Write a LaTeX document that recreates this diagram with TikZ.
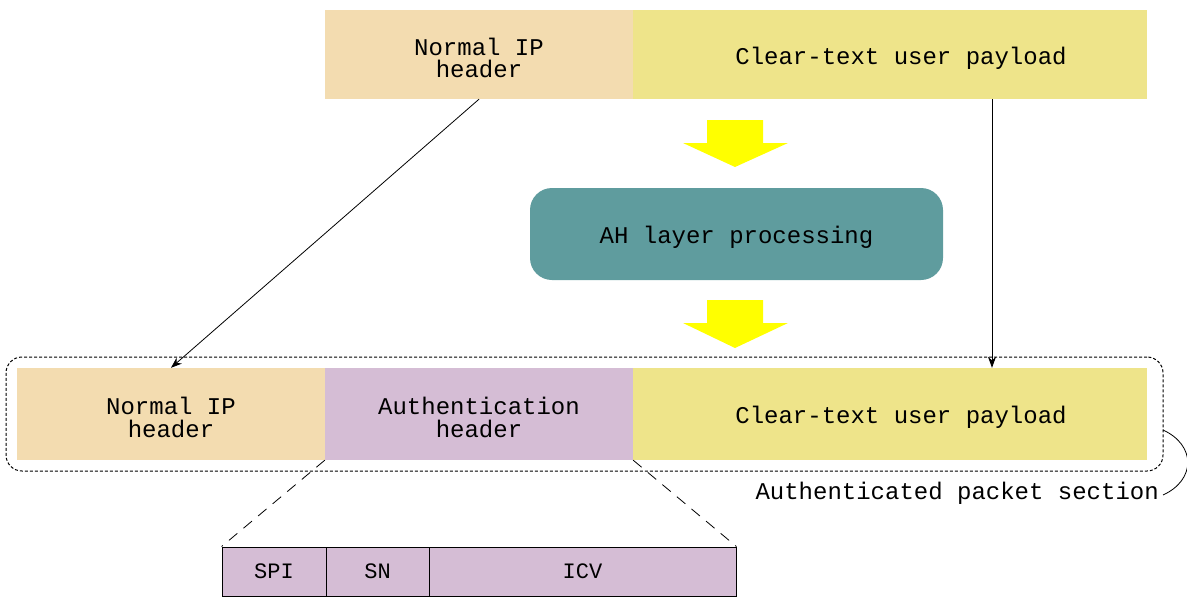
\documentclass[tikz,border=0pt]{standalone}
\usepackage{fontspec}
\setmonofont{Liberation Mono}
\usetikzlibrary{arrows.meta}
\definecolor{ipc}{HTML}{F3DCB0}
\definecolor{payc}{HTML}{EEE48A}
\definecolor{authc}{HTML}{D5BDD5}
\definecolor{ahc}{HTML}{5F9C9E}
\definecolor{yel}{HTML}{FFFF00}
\tikzset{
  field/.style={draw=none, minimum height=#1, inner sep=0pt},
  txt/.style={align=center, inner sep=0pt, yshift=-3.5pt,
    font=\ttfamily\fontsize{24}{22.5}\selectfont},
  cell/.style={draw=black, line width=0.9pt, minimum height=49, inner sep=0pt,
    font=\ttfamily\fontsize{22}{22}\selectfont},
  conn/.style={line width=0.8pt, -{Stealth[length=11pt,width=8pt]}},
  zoomline/.style={line width=0.8pt, dash pattern=on 11pt off 8pt},
  yarrow/.style={fill=yel, draw=none}
}
\begin{document}
\begin{tikzpicture}[x=1pt,y=-1pt]
\useasboundingbox (0,0) rectangle (1187,597);
% top row
\node[field=89, fill=ipc, minimum width=308, label={[txt]center:{Normal IP\\header}}] (ipTop) at (479,54.5) {};
\node[field=89, fill=payc, minimum width=514, label={[txt, xshift=11pt]center:{Clear-text user payload}}] (clrTop) at (890,54.5) {};
% AH processing
\node[field=92, fill=ahc, minimum width=413, rounded corners=22pt, label={[txt]center:{AH layer processing}}] (ah) at (736.5,234) {};
% yellow arrows
\fill[yarrow] (707,120) -- (763,120) -- (763,143) -- (788,143) -- (735,167) -- (683,143) -- (707,143) -- cycle;
\fill[yarrow] (707,300) -- (763,300) -- (763,323) -- (788,323) -- (735,348) -- (683,323) -- (707,323) -- cycle;
% bottom row
\node[field=92, fill=ipc, minimum width=308, label={[txt]center:{Normal IP\\header}}] (ipBot) at (171,414) {};
\node[field=92, fill=authc, minimum width=308, label={[txt]center:{Authentication\\header}}] (authBot) at (479,414) {};
\node[field=92, fill=payc, minimum width=514, label={[txt, xshift=11pt]center:{Clear-text user payload}}] (clrBot) at (890,414) {};
% dashed rounded frame
\node[draw=black, line width=1pt, dash pattern=on 3pt off 2pt, rounded corners=16pt,
      minimum width=1157, minimum height=114, inner sep=0pt] (frame) at (584.5,414) {};
% label and bracket
\node[anchor=base east, font=\ttfamily\fontsize{24}{22}\selectfont, inner sep=0pt] (lbl) at (1159,499) {Authenticated packet section};
\coordinate (brA) at (1163,430);
\coordinate (brB) at (1163,495);
\draw[line width=0.8pt] (brA) .. controls (1196,445) and (1196,480) .. (brB);
% connectors
\draw[conn] (ipTop.south) -- (ipBot.north);
\draw[conn] ([xshift=102]clrTop.south) -- ([xshift=102]clrBot.north);
% AH fields
\node[cell, fill=authc, minimum width=104] (spi) at (274,571.5) {SPI};
\node[cell, fill=authc, minimum width=103] (sn) at (377.5,571.5) {SN};
\node[cell, fill=authc, minimum width=307] (icv) at (582.5,571.5) {ICV};
\draw[zoomline] (authBot.south west) -- (spi.north west);
\draw[zoomline] (authBot.south east) -- (icv.north east);
\end{tikzpicture}
\end{document}
